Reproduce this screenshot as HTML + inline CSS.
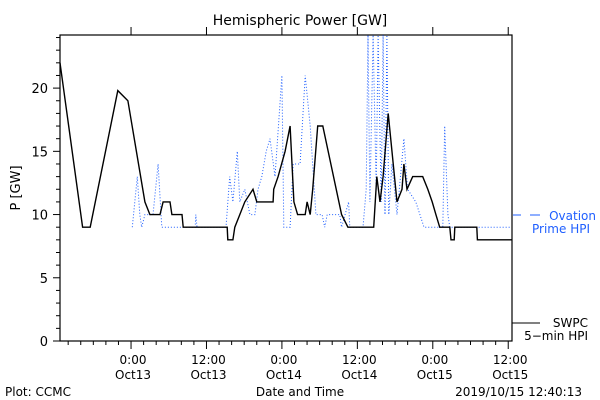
<!DOCTYPE html>
<html><head><meta charset="utf-8"><style>
body{margin:0;background:#fff;}
svg{display:block;font-family:"DejaVu Sans","Liberation Sans",sans-serif;}
</style></head><body>
<svg id="chart" width="600" height="400" viewBox="0 0 600 400">
<text x="300" y="25" text-anchor="middle" font-size="14">Hemispheric Power [GW]</text>
<text transform="translate(20,188) rotate(-90)" text-anchor="middle" font-size="13">P [GW]</text>
<text x="300" y="396" text-anchor="middle" font-size="12">Date and Time</text>
<text x="5" y="396" font-size="12">Plot: CCMC</text>
<text x="582" y="396" text-anchor="end" font-size="12">2019/10/15 12:40:13</text>
<g id="axes"></g>
<g id="series"></g>
<g>
<line x1="513" y1="215" x2="521" y2="215" stroke="#1f5fff" stroke-width="1"/>
<line x1="530" y1="215" x2="540" y2="215" stroke="#1f5fff" stroke-width="1"/>
<text x="596" y="220" text-anchor="end" font-size="12" fill="#1f5fff">Ovation</text>
<text x="590" y="233" text-anchor="end" font-size="12" fill="#1f5fff">Prime HPI</text>
</g>
<g>
<line x1="512" y1="323" x2="540" y2="323" stroke="#000" stroke-width="1"/>
<text x="588" y="327" text-anchor="end" font-size="12">SWPC</text>
<text x="588" y="340" text-anchor="end" font-size="12">5−min HPI</text>
</g>
</svg>
<script>
const yTicks=[0,5,10,15,20];
const xTickHours=[0,12,24,36,48,60];
const xTickTimes=["0:00","12:00","0:00","12:00","0:00","12:00"];
const xTickDays=["Oct13","Oct13","Oct14","Oct14","Oct15","Oct15"];
const swpcHours=[-11.3,-7.7,-6.5,-2.1,-0.5,2.2,3.0,4.6,5.1,6.2,6.5,8.1,8.3,15.3,15.4,16.2,16.5,17.3,18.1,19.4,20.0,22.6,22.7,23.4,24.5,25.3,25.9,26.5,27.7,28.0,28.5,28.9,29.7,30.5,33.5,34.5,38.6,39.1,39.6,40.1,40.9,42.3,43.1,43.4,43.9,44.8,46.4,47.2,47.9,48.5,49.1,50.7,50.9,51.4,51.5,55.0,55.1,60.6];
const swpcValues=[22,9,9,19.8,19,11,10,10,11,11,10,10,9,9,8,8,9,10,11,12,11,11,12,13,15,17,11,10,10,11,10,12,17,17,10,9,9,13,11,13,18,11,12,14,12,13,13,12,11,10,9,9,8,8,9,9,8,8];
const ovHours=[0.2,1.0,1.4,1.7,2.2,3.5,4.3,4.9,10.2,10.3,10.5,15.1,15.7,16.2,16.9,17.3,18.1,18.9,19.7,20.2,20.8,21.5,22.1,22.9,24.0,24.3,25.3,25.8,26.9,27.7,28.5,29.4,30.4,30.8,31.2,33.2,33.5,34.6,34.8,36.9,37.4,37.7,38.0,38.5,39.0,39.3,39.8,40.1,40.4,40.7,41.0,41.5,42.3,43.4,44.0,45.3,46.6,49.6,49.9,50.4,50.7,60.3];
const ovValues=[9,13,10,9,10,10,14,9,9,10,9,9,13,11,15,11,12,10,10,12,13,15,16,13,21,9,9,14,14,21,17,10,10,9,10,10,9,11,9,9,12,24.2,11,24.2,12,24.2,11,24.2,10,24.2,10,14,10,16,12,11,9,9,17,10,9,9];

const L=60,R=512,T=35,B=341,H0=-11.3,H1=60.6,YMAX=24.2;
const sx=h=>L+(h-H0)/(H1-H0)*(R-L);
const sy=v=>B-v/YMAX*(B-T);
const NS="http://www.w3.org/2000/svg";
function mk(tag,attrs,parent){const e=document.createElementNS(NS,tag);for(const k in attrs)e.setAttribute(k,attrs[k]);parent.appendChild(e);return e;}
const ax=document.getElementById('axes');
const frame=mk('rect',{x:L,y:T,width:R-L,height:B-T,fill:'none',stroke:'#000','stroke-width':1.2},ax);


for(let v=0;v<=24;v++){
  const major=v%5===0;
  const t=mk('line',{x1:L-(major?7:4),x2:L,y1:sy(v),y2:sy(v),stroke:'#000'},ax);
  
  
}
yTicks.forEach(v=>{
  const t=mk('text',{x:L-12,y:sy(v)+5,'text-anchor':'end','font-size':13},ax);
  t.textContent=v;
  
  
});
for(let h=-10;h<=60;h+=2){
  const major=h%12===0;
  const t=mk('line',{x1:sx(h),x2:sx(h),y1:B,y2:B+(major?8:4),stroke:'#000'},ax);
  
  
  const t2=mk('line',{x1:sx(h),x2:sx(h),y1:T,y2:T-(major?8:0),stroke:'#000'},ax);
  
  
}
xTickHours.forEach((h,i)=>{
  const a=mk('text',{x:sx(h)+2,y:364,'text-anchor':'middle','font-size':12},ax);
  a.textContent=xTickTimes[i];
  
  
  const b=mk('text',{x:sx(h)+2,y:379,'text-anchor':'middle','font-size':12},ax);
  b.textContent=xTickDays[i];
  
  
});
const sg=document.getElementById('series');
const ov=mk('polyline',{points:ovHours.map((h,i)=>sx(h).toFixed(1)+','+sy(ovValues[i]).toFixed(1)).join(' '),fill:'none',stroke:'#1f5fff','stroke-width':1,'stroke-dasharray':'1 2'},sg);


const sw=mk('polyline',{points:swpcHours.map((h,i)=>sx(h).toFixed(1)+','+sy(swpcValues[i]).toFixed(1)).join(' '),fill:'none',stroke:'#000','stroke-width':1.4},sg);


</script>
</body></html>
